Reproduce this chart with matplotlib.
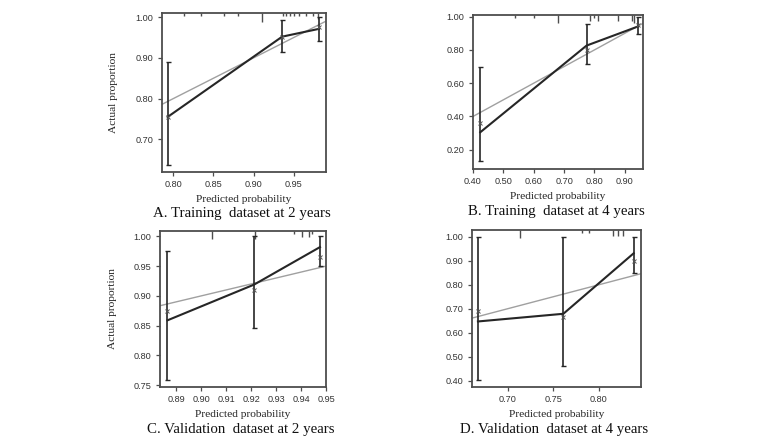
import matplotlib
matplotlib.use("Agg")
import matplotlib.pyplot as plt
import matplotlib.transforms as mtransforms

# calibration points: predicted probability, observed proportion, CI
a_pred = [0.793, 0.9355, 0.981]
a_obs = [0.755, 0.952, 0.971]
a_lo = [0.637, 0.915, 0.942]
a_hi = [0.889, 0.992, 1.000]
a_corr = [0.755, 0.950, 0.975]
a_rug = [0.813, 0.834, 0.863, 0.881, 0.911, 0.936, 0.940, 0.945, 0.950, 0.957, 0.965, 0.974, 0.980]
a_rug_n = [1, 1, 1, 1, 3, 1, 1, 1, 1, 1, 1, 1, 2]

b_pred = [0.424, 0.774, 0.942]
b_obs = [0.305, 0.826, 0.940]
b_lo = [0.131, 0.715, 0.894]
b_hi = [0.700, 0.955, 1.000]
b_corr = [0.36, 0.80, 0.95]
b_rug = [0.538, 0.600, 0.681, 0.786, 0.797, 0.812, 0.878, 0.923, 0.931]
b_rug_n = [1, 1, 3, 2, 1, 2, 2, 2, 3]

c_pred = [0.8865, 0.9212, 0.9476]
c_obs = [0.859, 0.919, 0.982]
c_lo = [0.759, 0.846, 0.950]
c_hi = [0.976, 1.000, 1.000]
c_corr = [0.875, 0.910, 0.965]
c_rug = [0.9045, 0.9215, 0.937, 0.9405, 0.9433, 0.9445]
c_rug_n = [3, 3, 1, 2, 2, 1]

d_pred = [0.6675, 0.761, 0.838]
d_obs = [0.647, 0.679, 0.931]
d_lo = [0.403, 0.460, 0.848]
d_hi = [1.000, 1.000, 1.000]
d_corr = [0.69, 0.665, 0.90]
d_rug = [0.713, 0.781, 0.789, 0.815, 0.821, 0.826]
d_rug_n = [3, 1, 1, 2, 2, 2]

panels = [
    dict(rect=[162, 13, 326, 172], pred=a_pred, obs=a_obs, lo=a_lo, hi=a_hi, corr=a_corr,
         rug=a_rug, rug_n=a_rug_n, xlim=(0.786, 0.990), ylim=(0.62, 1.01),
         xticks=[0.80, 0.85, 0.90, 0.95], yticks=[0.70, 0.80, 0.90, 1.00],
         ylabel=True, title="A. Training  dataset at 2 years"),
    dict(rect=[473, 15, 643, 169], pred=b_pred, obs=b_obs, lo=b_lo, hi=b_hi, corr=b_corr,
         rug=b_rug, rug_n=b_rug_n, xlim=(0.401, 0.960), ylim=(0.084, 1.01),
         xticks=[0.40, 0.50, 0.60, 0.70, 0.80, 0.90], yticks=[0.20, 0.40, 0.60, 0.80, 1.00],
         ylabel=False, title="B. Training  dataset at 4 years"),
    dict(rect=[160, 231, 326, 387], pred=c_pred, obs=c_obs, lo=c_lo, hi=c_hi, corr=c_corr,
         rug=c_rug, rug_n=c_rug_n, xlim=(0.8835, 0.9500), ylim=(0.747, 1.009),
         xticks=[0.89, 0.90, 0.91, 0.92, 0.93, 0.94, 0.95],
         yticks=[0.75, 0.80, 0.85, 0.90, 0.95, 1.00],
         ylabel=True, title="C. Validation  dataset at 2 years"),
    dict(rect=[472, 230, 641, 387], pred=d_pred, obs=d_obs, lo=d_lo, hi=d_hi, corr=d_corr,
         rug=d_rug, rug_n=d_rug_n, xlim=(0.661, 0.846), ylim=(0.374, 1.028),
         xticks=[0.70, 0.75, 0.80], yticks=[0.40, 0.50, 0.60, 0.70, 0.80, 0.90, 1.00],
         ylabel=False, title="D. Validation  dataset at 4 years"),
]

W, H = 757, 448
fig = plt.figure(figsize=(W / 100, H / 100), dpi=100)
fig.patch.set_facecolor("white")

serif = ["Liberation Serif", "DejaVu Serif"]
ink = "#262626"
frame = "#4d4d4d"

for p in panels:
    x0, y0, x1, y1 = p["rect"]
    ax = fig.add_axes([x0 / W, 1 - y1 / H, (x1 - x0) / W, (y1 - y0) / H])

    # ideal line
    ax.axline((0, 0), slope=1, color="#a0a0a0", lw=1.0, zorder=1)

    # apparent calibration with CI
    ax.plot(p["pred"], p["obs"], color=ink, lw=1.5, zorder=3)
    yerr = [[o - l for o, l in zip(p["obs"], p["lo"])],
            [h - o for o, h in zip(p["obs"], p["hi"])]]
    ax.errorbar(p["pred"], p["obs"], yerr=yerr, fmt="none", ecolor=ink,
                elinewidth=1.2, capsize=1.8, capthick=1.0, zorder=4)
    ax.plot(p["pred"], p["corr"], ls="none", marker="x", ms=2.2, mew=0.7,
            color="#555555", zorder=5)

    # rug of predicted probabilities along the top
    trans = mtransforms.blended_transform_factory(ax.transData, ax.transAxes)
    ax.vlines(p["rug"], [1 - 0.018 * n for n in p["rug_n"]], 1.0,
              transform=trans, color=frame, lw=1.0, zorder=2)

    ax.set_xlim(*p["xlim"])
    ax.set_ylim(*p["ylim"])
    ax.set_xticks(p["xticks"])
    ax.set_yticks(p["yticks"])
    ax.set_xticklabels(["%.2f" % v for v in p["xticks"]])
    ax.set_yticklabels(["%.2f" % v for v in p["yticks"]])
    ax.tick_params(direction="out", length=3, width=0.9, color=frame,
                   labelsize=6.6, labelcolor="#333333", pad=3)
    for lab in ax.get_xticklabels() + ax.get_yticklabels():
        lab.set_family("Liberation Sans")
    for s in ax.spines.values():
        s.set_color(frame)
        s.set_linewidth(1.3)

    cx = (x0 + x1) / 2
    fig.text(cx / W, 1 - (y1 + 27) / H, "Predicted probability", family=serif,
             fontsize=8.2, ha="center", va="center", color="#222222")
    fig.text((cx - 2) / W, 1 - (y1 + 42) / H, p["title"], family=serif,
             fontsize=10.7, ha="center", va="center", color="#111111")
    if p["ylabel"]:
        fig.text((x0 - 48) / W, 1 - ((y0 + y1) / 2) / H, "Actual proportion",
                 family=serif, fontsize=8.2, rotation=90, ha="center", va="center",
                 color="#222222")

fig.savefig("out.png", dpi=100)
